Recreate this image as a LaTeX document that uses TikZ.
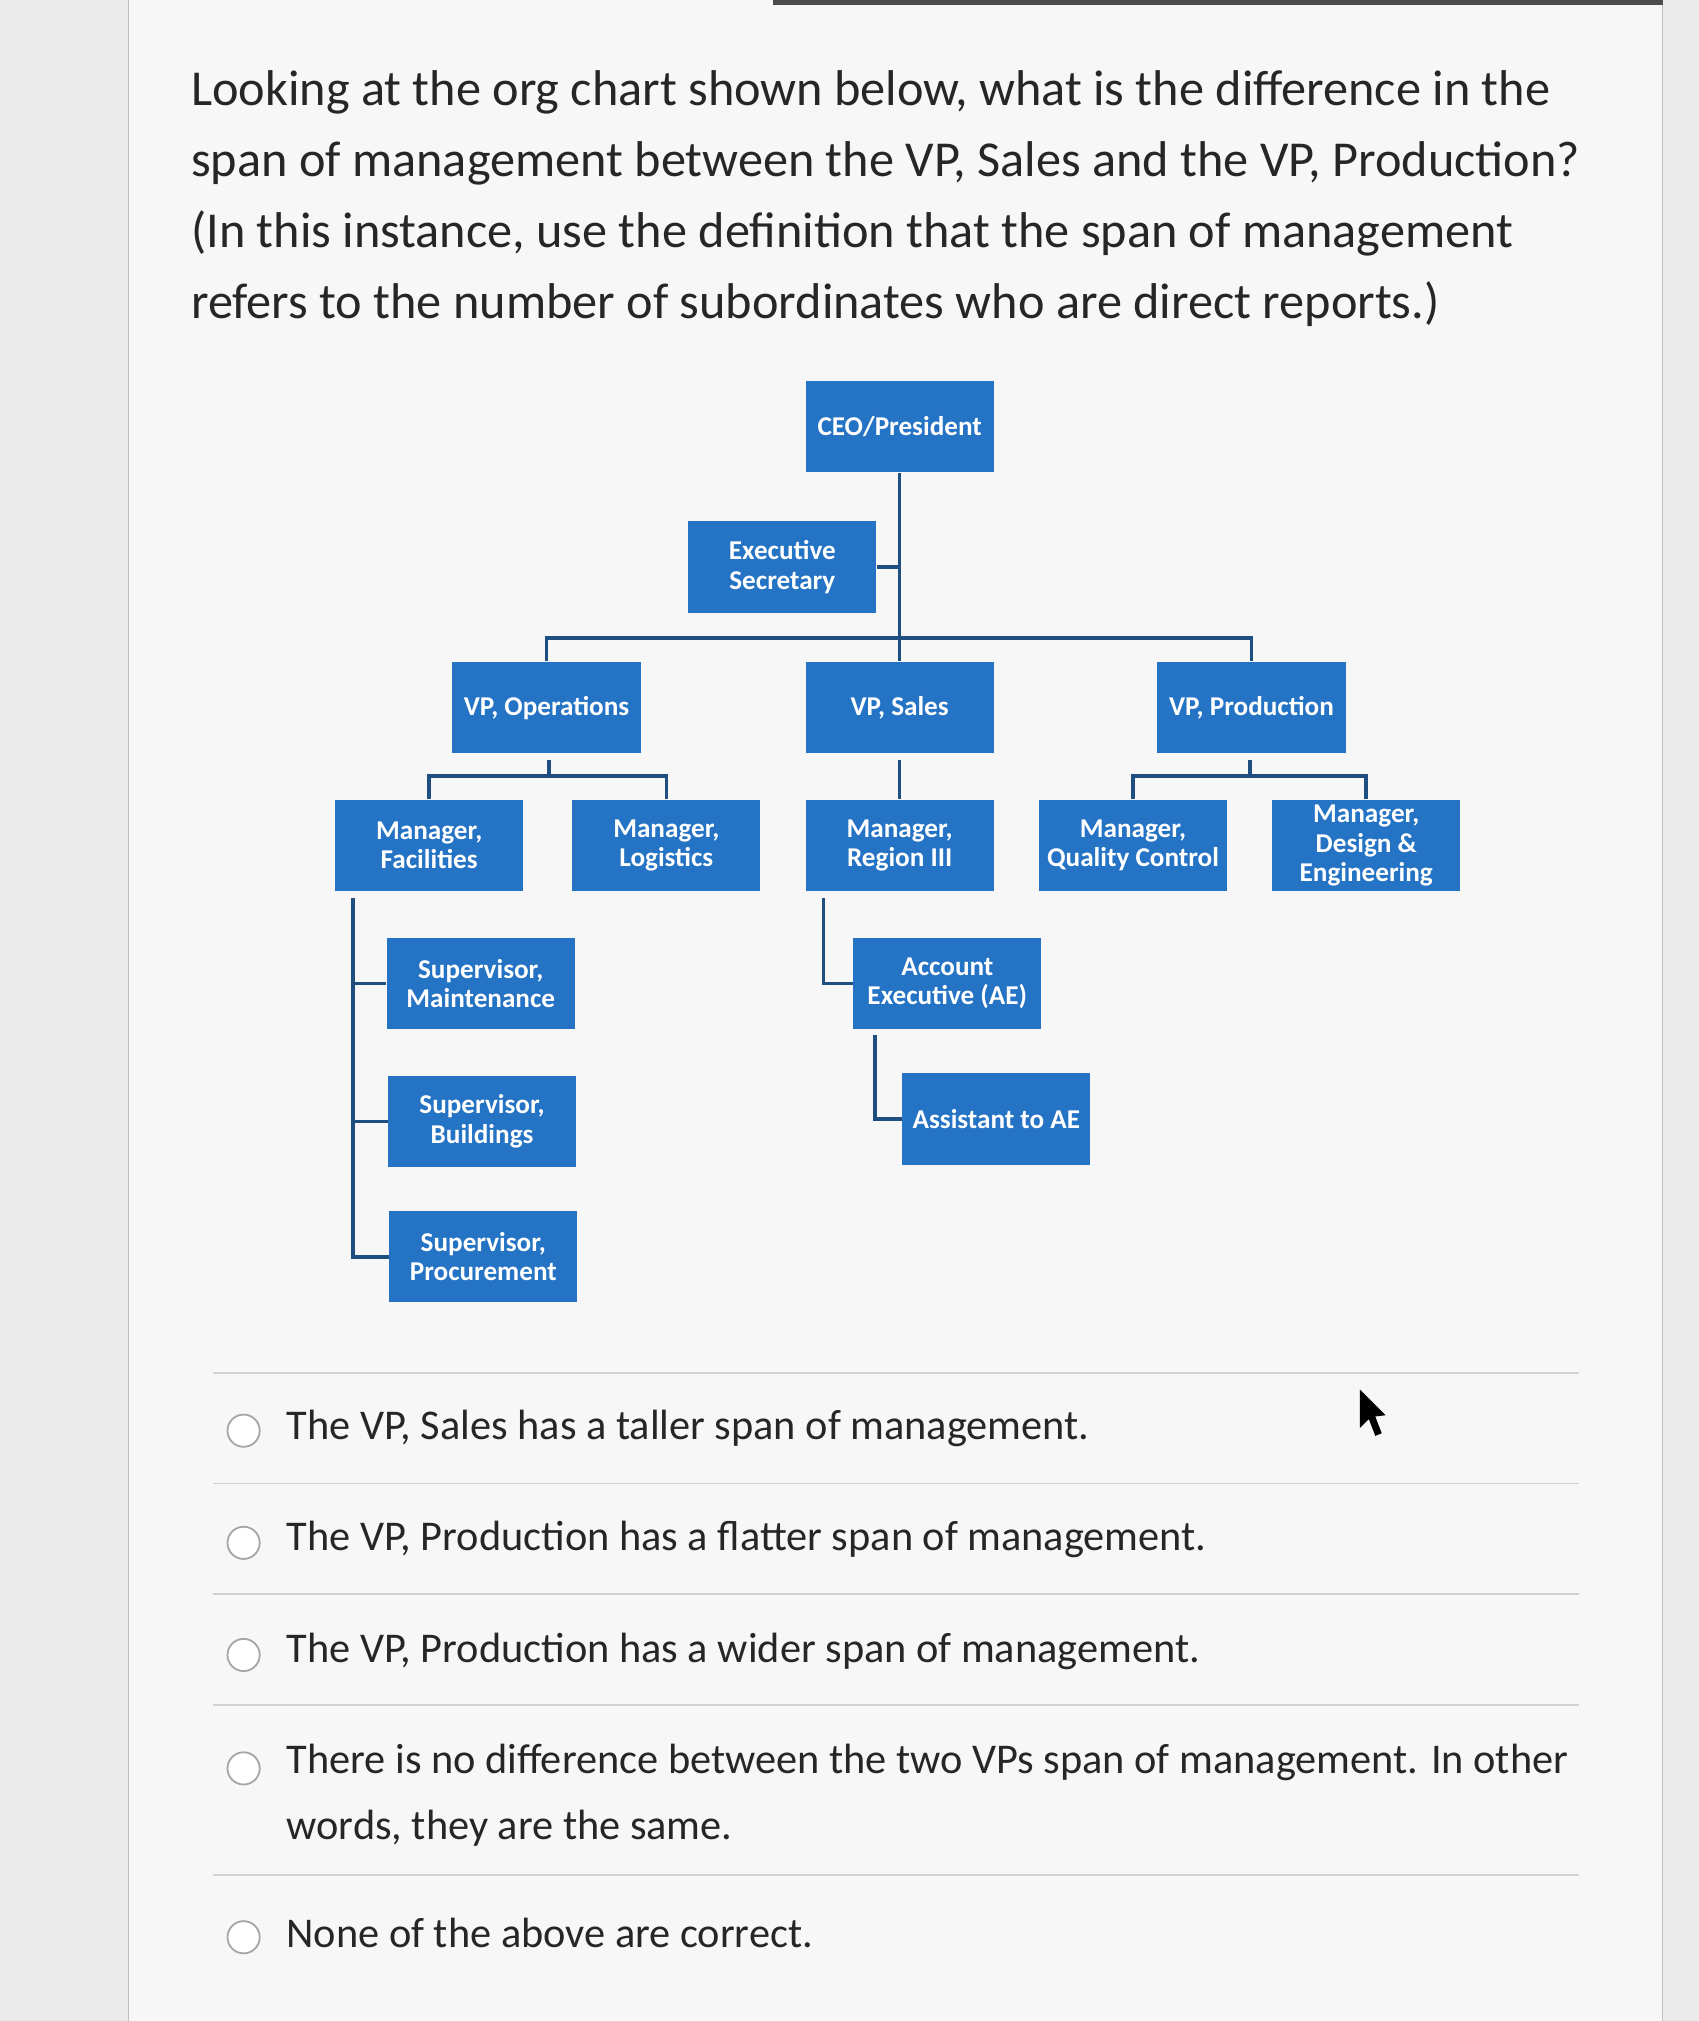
\documentclass[tikz,border=0pt]{standalone}
\usepackage{fontspec}
\setmainfont{Carlito}
\begin{document}
\begin{tikzpicture}[x=0.02cm,y=-0.02cm,
 bx/.style={fill=boxblue,text=white,minimum width=2.92cm,minimum height=1.42cm,align=center,inner sep=1pt,font=\bfseries\fontsize{12}{13}\selectfont},
 ln/.style={draw=linkblue,line width=1.6pt},
 q/.style={anchor=base west,inner sep=0,font=\fontsize{22.2}{24}\selectfont,text=black!85},
 o/.style={anchor=base west,inner sep=0,font=\fontsize{18.7}{24}\selectfont,text=black!85},
 sep/.style={draw=black!18,line width=0.8pt},
 rad/.style={draw=black!35,line width=0.8pt,fill=white}]
\definecolor{boxblue}{HTML}{2473C4}
\definecolor{linkblue}{HTML}{1F4E80}
\useasboundingbox (0,0) rectangle (1318,1568);
\fill[black!8] (0,0) rectangle (1318,1568);
\fill[white!97!black] (100,0) rectangle (1290,1568);
\draw[black!25] (100,0)--(100,1568) (1290,0)--(1290,1568);
\fill[black!70] (600,0) rectangle (1290,4);
% question
\node[q] (q1) at (148,82) {Looking at the org chart shown below, what is the difference in the};
\node[q] (q2) at (148,137) {span of management between the VP, Sales and the VP, Production?};
\node[q] (q3) at (148,192) {(In this instance, use the definition that the span of management};
\node[q] (q4) at (148,247) {refers to the number of subordinates who are direct reports.)};
% boxes
\node[bx] (ceo) at (698,331) {CEO/President};
\node[bx] (es) at (607,440) {Executive\\Secretary};
\node[bx] (vpo) at (424,549) {VP, Operations};
\node[bx] (vps) at (698,549) {VP, Sales};
\node[bx] (vpp) at (971,549) {VP, Production};
\node[bx] (mf) at (333,656) {Manager,\\Facilities};
\node[bx] (ml) at (517,656) {Manager,\\Logistics};
\node[bx] (mr) at (698,656) {Manager,\\Region III};
\node[bx] (mq) at (879,656) {Manager,\\Quality Control};
\node[bx] (md) at (1060,656) {Manager,\\Design \&\\Engineering};
\node[bx] (sm) at (373,763) {Supervisor,\\Maintenance};
\node[bx] (sb) at (374,870) {Supervisor,\\Buildings};
\node[bx] (sp) at (375,975) {Supervisor,\\Procurement};
\node[bx] (ae) at (735,763) {Account\\Executive (AE)};
\node[bx] (as) at (773,868) {Assistant to AE};
% connectors
\coordinate (t0) at (698,495);
\draw[ln] (ceo.south) -- (t0);
\draw[ln] (es.east) -- (es.east -| ceo);
\draw[ln] (vpo.north) -- (424,495) -- (971,495) -- (vpp.north);
\draw[ln] (t0) -- (vps.north);
\coordinate (o1) at (426,590);
\draw[ln] (o1) -- (426,602);
\draw[ln] (mf.north) -- (333,602) -- (517,602) -- (ml.north);
\coordinate (s1) at (698,590);
\draw[ln] (s1) -- (mr.north);
\coordinate (p1) at (970,590);
\draw[ln] (p1) -- (970,602);
\draw[ln] (mq.north) -- (879,602) -- (1060,602) -- (md.north);
\coordinate (f1) at (274,697);
\draw[ln] (f1) -- (274,975) -- (sp.west);
\draw[ln] (274,763) -- (sm.west);
\draw[ln] (274,870) -- (sb.west);
\coordinate (r1) at (639,697);
\draw[ln] (r1) -- (639,763) -- (ae.west);
\coordinate (a1) at (679,803);
\draw[ln] (a1) -- (679,868) -- (as.west);
% options
\foreach \y in {1065,1151,1237,1323,1455} \draw[sep] (165,\y) -- (1225,\y);
\foreach \y/\n in {1110/c1,1197/c2,1284/c3,1372/c4,1503/c5} \node[rad,circle,minimum size=0.5cm,inner sep=0] (\n) at (189,\y) {};
\node[o] (o1t) at (222,1117) {The VP, Sales has a taller span of management.};
\node[o] (o2t) at (222,1203) {The VP, Production has a flatter span of management.};
\node[o] (o3t) at (222,1290) {The VP, Production has a wider span of management.};
\node[o] (o4t) at (222,1376) {There is no difference between the two VPs span of management. In other};
\node[o] (o4u) at (222,1427) {words, they are the same.};
\node[o] (o5t) at (222,1511) {None of the above are correct.};
% cursor
\fill[black] (1055,1078) -- (1055,1108) -- (1062,1101) -- (1067,1114) -- (1072,1112) -- (1067,1099) -- (1075,1098) -- cycle;
\end{tikzpicture}
\end{document}
